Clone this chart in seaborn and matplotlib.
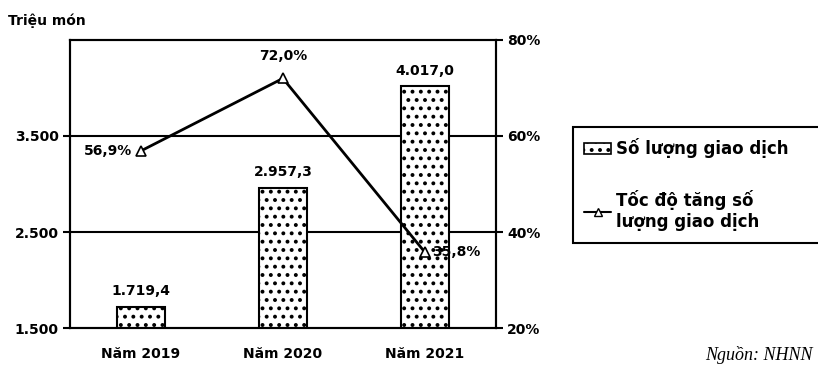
import matplotlib
matplotlib.use("Agg")
import matplotlib.pyplot as plt
import matplotlib.patches as mpatches
import matplotlib.lines as mlines
import numpy as np
import pandas as pd
import seaborn as sns

# Data
years = ["Năm 2019", "Năm 2020", "Năm 2021"]
volumes = [1719.4, 2957.3, 4017.0]          # triệu món
growth = [56.9, 72.0, 35.8]                  # %
volume_labels = ["1.719,4", "2.957,3", "4.017,0"]
growth_labels = ["56,9%", "72,0%", "35,8%"]
left_ticks = [1500, 2500, 3500]
left_tick_labels = ["1.500", "2.500", "3.500"]
right_ticks = [20, 40, 60, 80]
right_tick_labels = ["20%", "40%", "60%", "80%"]

sns.set_theme(style="white")
plt.rcParams["font.family"] = ["DejaVu Sans"]
plt.rcParams["text.color"] = "black"
plt.rcParams["axes.labelcolor"] = "black"
plt.rcParams["xtick.color"] = "black"
plt.rcParams["ytick.color"] = "black"
plt.rcParams["hatch.linewidth"] = 1.6
plt.rcParams["hatch.color"] = "black"

fig = plt.figure(figsize=(8.18, 3.73), dpi=100)
ax = fig.add_axes([0.0856, 0.1206, 0.5205, 0.7722])

df = pd.DataFrame({"year": years, "volume": volumes})

# Horizontal reference lines
for t in left_ticks[1:]:
    ax.axhline(t, color="black", lw=1.5, zorder=0)

sns.barplot(data=df, x="year", y="volume", ax=ax, color="white",
            edgecolor="black", linewidth=1.5, width=0.34, zorder=2)
for bar in ax.patches:
    bar.set_hatch("..")
    bar.set_facecolor("white")

ax.set_xlim(-0.5, 2.5)
ax.set_ylim(1500, 4500)
ax.set_yticks(left_ticks)
ax.set_yticklabels(left_tick_labels, fontsize=10, fontweight="bold")
ax.set_xticks(range(3))
ax.set_xticklabels(years, fontsize=10, fontweight="bold")
ax.set_xticks([-0.5, 0.5, 1.5, 2.5], minor=True)
ax.tick_params(axis="x", which="major", length=0, pad=14)
ax.tick_params(axis="x", which="minor", length=8, width=1.5, direction="inout", color="black")
ax.tick_params(axis="y", length=5, width=1.5, direction="out", color="black", left=True, pad=3)
ax.set_xlabel("")
ax.set_ylabel("")
for s in ax.spines.values():
    s.set_color("black")
    s.set_linewidth(1.5)

for i, (v, lab) in enumerate(zip(volumes, volume_labels)):
    ax.text(i, v + 90, lab, ha="center", va="bottom", fontsize=10, fontweight="bold")

# Growth rate on secondary axis
ax2 = ax.twinx()
sns.lineplot(x=np.arange(3), y=growth, ax=ax2, color="black", lw=2,
             marker="^", markersize=7, markerfacecolor="white",
             markeredgecolor="black", markeredgewidth=1.2, zorder=5)
ax2.set_ylim(20, 80)
ax2.set_yticks(right_ticks)
ax2.set_yticklabels(right_tick_labels, fontsize=10, fontweight="bold")
ax2.tick_params(axis="y", length=5, width=1.5, direction="out", color="black", right=True, pad=3)
ax2.set_ylabel("")
for s in ax2.spines.values():
    s.set_color("black")
    s.set_linewidth(1.5)

ax2.text(0 - 0.06, growth[0], growth_labels[0], ha="right", va="center",
         fontsize=10, fontweight="bold")
ax2.text(1, growth[1] + 3.2, growth_labels[1], ha="center", va="bottom",
         fontsize=10, fontweight="bold")
ax2.text(2 + 0.05, growth[2], growth_labels[2], ha="left", va="center",
         fontsize=10, fontweight="bold")

fig.text(0.01, 0.965, "Triệu món", fontsize=10, fontweight="bold", va="top")

# Legend
bar_handle = mpatches.Patch(facecolor="white", edgecolor="black", hatch="..", lw=1.2)
line_handle = mlines.Line2D([], [], color="black", lw=1.5, marker="^", markersize=6,
                            markerfacecolor="white", markeredgecolor="black")
leg = fig.legend([bar_handle, line_handle],
                 ["Số lượng giao dịch", "Tốc độ tăng số\nlượng giao dịch"],
                 loc="upper left", bbox_to_anchor=(0.700, 0.343, 0.32, 0.317),
                 mode="expand", borderaxespad=0.0,
                 frameon=True, fancybox=False, edgecolor="black", framealpha=1,
                 prop={"size": 12, "weight": "bold"}, labelspacing=1.9,
                 handlelength=1.6, handletextpad=0.3, borderpad=0.7)
leg.get_frame().set_linewidth(1.5)

fig.text(0.862, 0.025, "Nguồn: NHNN", fontsize=13, style="italic",
         family="Liberation Serif", va="bottom")

fig.savefig("out.png", dpi=100)
